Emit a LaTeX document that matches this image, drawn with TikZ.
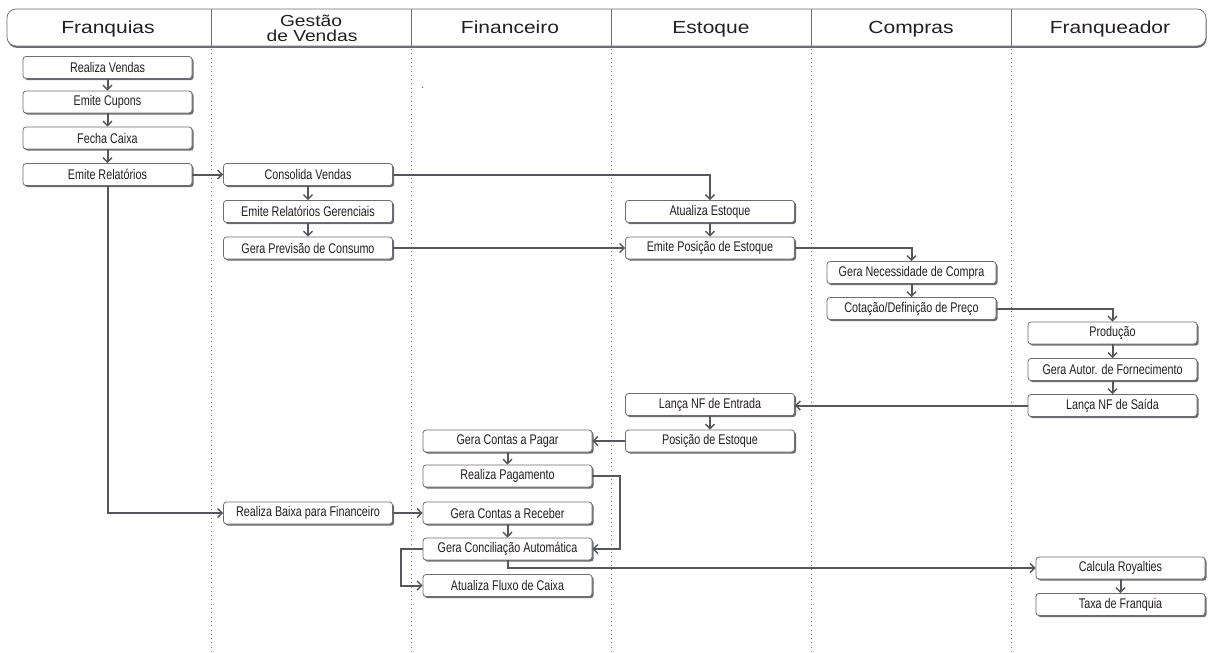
\documentclass[tikz,border=0pt]{standalone}
\usepackage{fontspec}
\newfontfamily\boxfont[FakeStretch=0.77]{Liberation Sans}
\newfontfamily\headfont[FakeStretch=1.2]{Liberation Sans}
\usetikzlibrary{arrows.meta,shadows}
\definecolor{linec}{HTML}{55575A}
\definecolor{boxborder}{HTML}{6D6E71}
\definecolor{shadowc}{HTML}{6A6B6E}
\definecolor{txt}{HTML}{231F20}
\definecolor{lanec}{HTML}{7A7A7A}
\tikzset{
  proc/.style={draw=boxborder, line width=0.8pt, fill=white, rounded corners=3pt,
    minimum width=169pt, minimum height=22pt, inner sep=0pt, text=txt,
    font=\boxfont\fontsize{14}{16}\selectfont,
    drop shadow={shadow xshift=1.6pt, shadow yshift=-1.6pt, fill=shadowc, opacity=1}},
  flow/.style={draw=linec, line width=2pt,
    -{Straight Barb[length=4.5pt,width=9pt,line width=1.4pt]}},
  lane/.style={draw=lanec, line width=0.9pt, dash pattern=on 0.9pt off 3.4pt},
  hdr/.style={text=txt, inner sep=0pt, anchor=base, font=\headfont\fontsize{17.5}{18}\selectfont},
  hdrsmall/.style={text=txt, inner sep=0pt, anchor=base, font=\headfont\fontsize{16}{16}\selectfont}
}
\begin{document}
\begin{tikzpicture}[x=1pt,y=-1pt]
\useasboundingbox (0,0) rectangle (1208,653);
\fill[white] (0,0) rectangle (1208,653);

% header
\draw[draw=boxborder, line width=0.7pt, fill=white, rounded corners=9pt,
  drop shadow={shadow xshift=0.6pt, shadow yshift=-1.8pt, fill=shadowc, opacity=1}]
  (7,9) rectangle (1206,46);
\foreach \x in {211,411,611,811,1011} \draw[boxborder, line width=0.7pt] (\x,9) -- (\x,46);
\node[hdr] (h1) at (108,33.3) {Franquias};
\node[hdrsmall] (h2a) at (311,26) {Gestão};
\node[hdrsmall] (h2b) at (312,41.7) {de Vendas};
\node[hdr] (h3) at (510,33.3) {Financeiro};
\node[hdr] (h4) at (711,33.3) {Estoque};
\node[hdr] (h5) at (911,33.3) {Compras};
\node[hdr] (h6) at (1110,33.3) {Franqueador};

% lanes
\foreach \x in {211,411,611,811,1011} \draw[lane] (\x,49) -- (\x,653);
\fill[linec] (422.5,87.5) circle (0.6pt);

% Franquias
\node[proc] (rv) at (107.5,67.5) {Realiza Vendas};
\node[proc] (ec) at (107.5,102) {Emite Cupons};
\node[proc] (fc) at (107.5,138) {Fecha Caixa};
\node[proc] (er) at (107.5,174.5) {Emite Relatórios};
% Gestao de Vendas
\node[proc] (cv) at (308,174.5) {Consolida Vendas};
\node[proc] (erg) at (308,211.5) {Emite Relatórios Gerenciais};
\node[proc] (gpc) at (308,248) {Gera Previsão de Consumo};
\node[proc] (rbf) at (308,513) {Realiza Baixa para Financeiro};
% Financeiro
\node[proc] (gcp) at (507.5,441) {Gera Contas a Pagar};
\node[proc] (rp) at (507.5,476) {Realiza Pagamento};
\node[proc] (gcr) at (507.5,513) {Gera Contas a Receber};
\node[proc] (gca) at (507.5,549) {Gera Conciliação Automática};
\node[proc] (afc) at (507.5,585.5) {Atualiza Fluxo de Caixa};
% Estoque
\node[proc] (ae) at (710,211.5) {Atualiza Estoque};
\node[proc] (epe) at (710,248) {Emite Posição de Estoque};
\node[proc] (lne) at (710,404.5) {Lança NF de Entrada};
\node[proc] (pe) at (710,441) {Posição de Estoque};
% Compras
\node[proc] (gnc) at (911.5,272.5) {Gera Necessidade de Compra};
\node[proc] (cdp) at (911.5,308.5) {Cotação/Definição de Preço};
% Franqueador
\node[proc] (prod) at (1112.5,333) {Produção};
\node[proc] (gaf) at (1112.5,369.5) {Gera Autor. de Fornecimento};
\node[proc] (lns) at (1112.5,405.5) {Lança NF de Saída};
\node[proc] (cr) at (1120.5,568) {Calcula Royalties};
\node[proc] (tf) at (1120.5,604.5) {Taxa de Franquia};

% connectors
\draw[flow] (rv) -- (ec);
\draw[flow] (ec) -- (fc);
\draw[flow] (fc) -- (er);
\draw[flow] (er) -- (cv);
\draw[flow] (er.south) |- (rbf.west);
\draw[flow] (cv) -- (erg);
\draw[flow] (erg) -- (gpc);
\draw[flow] (cv.east) -| (ae.north);
\draw[flow] (ae) -- (epe);
\draw[flow] (gpc) -- (epe);
\draw[flow] (epe.east) -| (gnc.north);
\draw[flow] (gnc) -- (cdp);
\draw[flow] (cdp.east) -| (prod.north);
\draw[flow] (prod) -- (gaf);
\draw[flow] (gaf) -- (lns);
\draw[flow] (lns.west) -- (lns.west -| lne.east);
\draw[flow] (lne) -- (pe);
\draw[flow] (pe) -- (gcp);
\draw[flow] (gcp) -- (rp);
\draw[flow] (rp.east) -- ++(28,0) |- (gca.east);
\draw[flow] (rbf) -- (gcr);
\draw[flow] (gcr) -- (gca);
\draw[flow] (gca.west) -- ++(-22,0) |- (afc.west);
\draw[flow] (gca.south) |- (cr.west);
\draw[flow] (cr) -- (tf);
\end{tikzpicture}
\end{document}
